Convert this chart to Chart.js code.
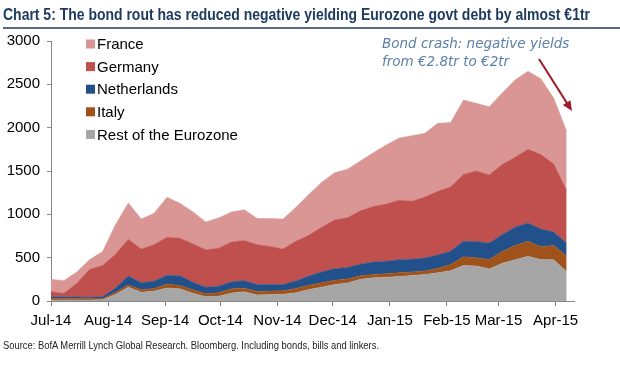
<!DOCTYPE html>
<html><head><meta charset="utf-8">
<script src="https://cdn.jsdelivr.net/npm/chart.js@4.4.1/dist/chart.umd.min.js"></script>
<style>
html,body{margin:0;padding:0;background:#fff;width:620px;height:366px;overflow:hidden;}
#wrap{position:relative;width:620px;height:366px;}
#c{position:absolute;left:0;top:0;}
.txt{position:absolute;white-space:nowrap;transform-origin:0 0;}
#title{left:3px;top:5px;font:bold 17px 'Liberation Sans Narrow','Arial Narrow','Liberation Sans',Arial,sans-serif;color:#1F3A60;}
#rule{position:absolute;left:3px;top:27px;width:617px;height:2px;background:#5B6B80;}
#source{left:3px;top:339px;font:11px 'Liberation Sans Narrow','Arial Narrow','Liberation Sans',Arial,sans-serif;color:#222;}
</style></head>
<body><div id="wrap">
<canvas id="c" width="620" height="366"></canvas>
<div id="title" class="txt">Chart 5: The bond rout has reduced negative yielding Eurozone govt debt by almost €1tr</div>
<div id="rule"></div>
<div id="source" class="txt">Source: BofA Merrill Lynch Global Research. Bloomberg. Including bonds, bills and linkers.</div>
</div>
<script>
// Weekly observation dates
const dates = ['2014-07-01','2014-07-08','2014-07-15','2014-07-22','2014-07-29',
 '2014-08-05','2014-08-12','2014-08-19','2014-08-26',
 '2014-09-02','2014-09-09','2014-09-16','2014-09-23','2014-09-30',
 '2014-10-07','2014-10-14','2014-10-21','2014-10-28',
 '2014-11-04','2014-11-11','2014-11-18','2014-11-25',
 '2014-12-02','2014-12-09','2014-12-16','2014-12-23','2014-12-30',
 '2015-01-06','2015-01-13','2015-01-20','2015-01-27',
 '2015-02-03','2015-02-10','2015-02-17','2015-02-24',
 '2015-03-03','2015-03-10','2015-03-17','2015-03-24','2015-03-31',
 '2015-04-07'];
// Negative-yielding govt debt, EUR bn
const restOfEurozone = [12,12,12,12,15,75,160,100,115,150,140,90,50,55,92,106,70,75,78,95,132,160,190,208,250,268,275,282,295,305,325,350,410,404,370,435,475,515,478,475,338];
const italy          = [19,18,16,14,10,25,25,30,30,45,40,40,35,40,48,40,40,40,40,50,50,50,50,47,40,37,39,43,40,40,50,70,100,96,108,135,165,175,147,165,182];
const netherlands    = [19,18,17,16,23,50,103,80,83,103,110,85,75,75,82,89,80,75,72,85,106,126,132,131,135,145,144,151,148,150,155,155,180,185,190,195,210,210,205,155,145];
const germany        = [58,40,159,323,362,390,424,390,422,437,435,445,430,440,458,463,460,440,410,460,470,514,563,576,615,640,660,687,667,705,735,740,770,815,787,810,810,850,860,785,610];
const france         = [142,147,131,113,160,341,420,345,363,462,402,370,322,349,347,354,302,322,345,391,472,520,545,558,575,620,682,717,757,735,785,745,860,781,785,825,890,900,875,760,685];
// Axis tick labels
const monthStarts = ['2014-07-01','2014-08-01','2014-09-01','2014-10-01','2014-11-01','2014-12-01','2015-01-01','2015-02-01','2015-03-01','2015-04-01'];
const monthLabels = ['Jul-14','Aug-14','Sep-14','Oct-14','Nov-14','Dec-14','Jan-15','Feb-15','Mar-15','Apr-15'];
const yTicks = [0,500,1000,1500,2000,2500,3000];

const day0 = Date.UTC(2014,6,1);
const toDay = s => { const p = s.split('-').map(Number); return (Date.UTC(p[0],p[1]-1,p[2]) - day0)/86400000; };
const xs = dates.map(toDay);
const tickDays = monthStarts.map(toDay);
const mk = arr => arr.map((v,i)=>({x:xs[i], y:v}));

const series = [
  {label:'Rest of the Eurozone', data:restOfEurozone, color:'#A6A6A6'},
  {label:'Italy', data:italy, color:'#A0521B'},
  {label:'Netherlands', data:netherlands, color:'#22508A'},
  {label:'Germany', data:germany, color:'#C0504D'},
  {label:'France', data:france, color:'#D99694'}
];

const legendPlugin = {
  id:'customLegend',
  afterDraw(chart){
    const ctx = chart.ctx;
    ctx.save();
    ctx.font = '15px "Liberation Sans", Arial, sans-serif';
    ctx.textBaseline = 'middle';
    const order = series.slice().reverse();
    order.forEach((s,i)=>{
      const y = 44 + i*22.6;
      ctx.fillStyle = s.color;
      ctx.fillRect(86, y-4.5, 9, 9);
      ctx.fillStyle = '#000';
      ctx.fillText(s.label, 97, y+1);
    });
    // annotation
    ctx.font = 'oblique 13.5px "DejaVu Sans", Verdana, sans-serif';
    ctx.fillStyle = '#5B80A8';
    ctx.textBaseline = 'middle';
    ctx.fillText('Bond crash: negative yields', 382, 44);
    ctx.fillText('from €2.8tr to €2tr', 382, 62);
    // arrow
    const x1=539,y1=59,x2=572,y2=111;
    ctx.strokeStyle='#A11D2B'; ctx.fillStyle='#A11D2B'; ctx.lineWidth=2;
    const ang=Math.atan2(y2-y1,x2-x1);
    ctx.beginPath(); ctx.moveTo(x1,y1); ctx.lineTo(x2-7*Math.cos(ang),y2-7*Math.sin(ang)); ctx.stroke();
    ctx.beginPath();
    ctx.moveTo(x2,y2);
    ctx.lineTo(x2-10*Math.cos(ang)+4.5*Math.sin(ang), y2-10*Math.sin(ang)-4.5*Math.cos(ang));
    ctx.lineTo(x2-10*Math.cos(ang)-4.5*Math.sin(ang), y2-10*Math.sin(ang)+4.5*Math.cos(ang));
    ctx.closePath(); ctx.fill();
    ctx.restore();
  }
};

new Chart(document.getElementById('c'), {
  type:'line',
  data:{
    datasets: series.map((s,i)=>({
      label:s.label, data:mk(s.data),
      backgroundColor:s.color, borderColor:s.color, borderWidth:0.5,
      pointRadius:0, tension:0, fill: i===0 ? 'origin' : '-1'
    }))
  },
  options:{
    responsive:false, animation:false,
    layout:{padding:{left:0, top:41, right:46, bottom:35}},
    plugins:{legend:{display:false}, tooltip:{enabled:false}},
    scales:{
      x:{
        type:'linear', min:0, max:284,
        afterBuildTicks: sc => { sc.ticks = tickDays.map(v=>({value:v})); },
        afterFit: sc => { sc.height = 30; },
        ticks:{ autoSkip:false, maxRotation:0, padding:6, color:'#000',
          font:{family:'"Liberation Sans", Arial, sans-serif', size:15},
          callback: v => { const k = tickDays.indexOf(v); return k>=0 ? monthLabels[k] : ''; } },
        grid:{display:true, drawOnChartArea:false, drawTicks:true, tickLength:5, color:'#888'},
        border:{display:true, color:'#888', width:1}
      },
      y:{
        stacked:true, min:0, max:3000,
        afterBuildTicks: sc => { sc.ticks = yTicks.map(v=>({value:v})); },
        afterFit: sc => { sc.width = 51; },
        ticks:{ padding:7, color:'#000',
          font:{family:'"Liberation Sans", Arial, sans-serif', size:15},
          callback: v => String(v) },
        grid:{display:true, drawOnChartArea:false, drawTicks:true, tickLength:4, color:'#888'},
        border:{display:true, color:'#888', width:1}
      }
    }
  },
  plugins:[legendPlugin]
});

function fit(id, target){
  const el = document.getElementById(id);
  const w = el.getBoundingClientRect().width;
  if (w>0) el.style.transform = 'scaleX(' + (target/w) + ')';
}
fit('title', 587);
fit('source', 376);
</script>
</body></html>
